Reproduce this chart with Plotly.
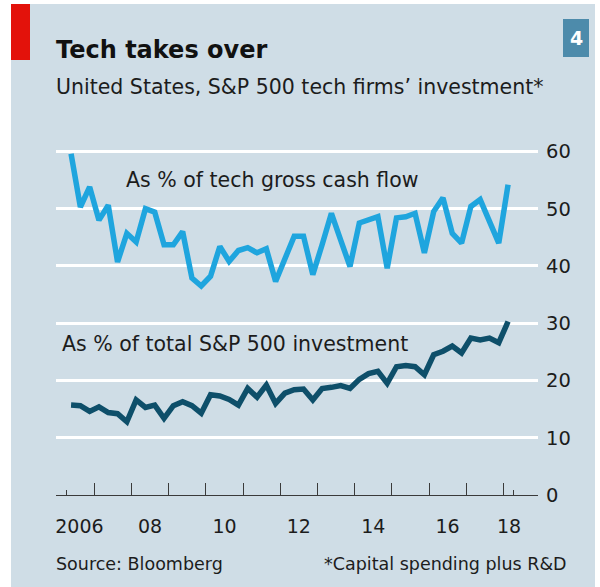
import plotly.graph_objects as go

# ---- data (quarterly, 2006 Q2 - 2018 Q1) ----
quarter_start = 2006.375
tech_cash_flow = [59.6, 50.3, 53.8, 48.0, 50.6, 40.7, 45.7, 44.2, 50.0, 49.4,
                  43.7, 43.7, 46.0, 37.9, 36.5, 38.2, 43.4, 40.8, 42.7, 43.2,
                  42.3, 43.0, 37.3, 41.4, 45.2, 45.2, 38.5, 43.7, 49.2, 44.5,
                  39.9, 47.5, 48.1, 48.6, 39.6, 48.4, 48.6, 49.2, 42.3, 49.5,
                  51.9, 45.7, 44.0, 50.4, 51.6, 48.0, 44.0, 54.2]
total_sp500 = [15.7, 15.6, 14.6, 15.4, 14.4, 14.2, 12.8, 16.6, 15.3, 15.7,
               13.4, 15.6, 16.3, 15.6, 14.3, 17.5, 17.3, 16.7, 15.7, 18.6,
               17.1, 19.2, 16.0, 17.8, 18.4, 18.5, 16.6, 18.6, 18.8, 19.1,
               18.6, 20.2, 21.2, 21.6, 19.5, 22.4, 22.6, 22.4, 21.0, 24.5,
               25.1, 26.0, 24.8, 27.4, 27.1, 27.4, 26.6, 30.3]
dates = [quarter_start + 0.25 * i for i in range(len(tech_cash_flow))]

year_ticks = list(range(2007, 2019))
label_pos = [2006.6, 2008.5, 2010.5, 2012.5, 2014.5, 2016.5, 2018.15]
label_text = ["2006", "08", "10", "12", "14", "16", "18"]
end_ticks = [2006.26, 2018.27]
y_ticks = [0, 10, 20, 30, 40, 50, 60]

FONT = "DejaVu Sans"
TXT = "#1c1c1c"
BG = "#cfdde6"

W, H = 600, 587
PL, PR, PT, PB = 56, 538, 140, 495


def px(x):
    return (x - PL) / (PR - PL)


def py(y):
    return (PB - y) / (PB - PT)


fig = go.Figure()
fig.add_trace(go.Scatter(x=dates, y=tech_cash_flow, mode="lines",
                         line=dict(color="#1fa5de", width=5.5),
                         hoverinfo="skip", showlegend=False))
fig.add_trace(go.Scatter(x=dates, y=total_sp500, mode="lines",
                         line=dict(color="#0e4f6a", width=5.5),
                         hoverinfo="skip", showlegend=False))
# carrier for the short end ticks axis
fig.add_trace(go.Scatter(x=end_ticks, y=[None, None], xaxis="x2", mode="lines",
                         hoverinfo="skip", showlegend=False))

fig.update_layout(
    width=W, height=H,
    margin=dict(l=PL, r=W - PR, t=PT, b=H - PB),
    paper_bgcolor="white",
    plot_bgcolor=BG,
    font=dict(family=FONT, color=TXT),
    xaxis=dict(
        range=[2005.97, 2018.93],
        tickmode="array", tickvals=label_pos, ticktext=label_text,
        ticks="", showgrid=False, zeroline=False,
        showline=True, linecolor="#3a3a3a", linewidth=1.3,
        tickfont=dict(size=19, color=TXT, family=FONT),
        ticklabelstandoff=14,
        minor=dict(tickmode="array", tickvals=year_ticks, ticks="inside",
                   ticklen=12, tickwidth=1.3, tickcolor="#3a3a3a", showgrid=False),
    ),
    xaxis2=dict(
        range=[2005.97, 2018.93], overlaying="x", side="bottom",
        tickmode="array", tickvals=end_ticks, ticktext=["", ""],
        ticks="inside", ticklen=5, tickwidth=1.3, tickcolor="#3a3a3a",
        showgrid=False, zeroline=False, showline=False,
    ),
    yaxis=dict(
        range=[0, 62], side="right",
        tickmode="array", tickvals=y_ticks,
        ticks="", showgrid=True, gridcolor="white", gridwidth=3,
        zeroline=False, showline=False,
        tickfont=dict(size=19.5, color=TXT, family=FONT),
        ticklabelstandoff=7,
    ),
    shapes=[
        dict(type="rect", xref="paper", yref="paper", layer="below",
             x0=px(11), x1=px(595), y0=py(4), y1=py(587),
             fillcolor=BG, line=dict(width=0)),
        dict(type="rect", xref="paper", yref="paper",
             x0=px(11), x1=px(30), y0=py(4), y1=py(60),
             fillcolor="#e3120b", line=dict(width=0)),
        dict(type="rect", xref="paper", yref="paper",
             x0=px(563), x1=px(589), y0=py(19), y1=py(57),
             fillcolor="#4d8bab", line=dict(width=0)),
    ],
    annotations=[
        dict(text="<b>Tech takes over</b>", xref="paper", yref="paper",
             x=px(54), y=py(50), xanchor="left", yanchor="middle",
             showarrow=False, font=dict(size=24, color="#111")),
        dict(text="United States, S&P 500 tech firms\u2019 investment*",
             xref="paper", yref="paper", x=px(54), y=py(87),
             xanchor="left", yanchor="middle", showarrow=False,
             font=dict(size=20.5, color=TXT)),
        dict(text="<b>4</b>", xref="paper", yref="paper",
             x=px(576), y=py(38), xanchor="center", yanchor="middle",
             showarrow=False, font=dict(size=19, color="white")),
        dict(text="As % of tech gross cash flow", xref="paper", yref="paper",
             x=px(124), y=py(180), xanchor="left", yanchor="middle",
             showarrow=False, font=dict(size=20.5, color=TXT)),
        dict(text="As % of total S&P 500 investment", xref="paper", yref="paper",
             x=px(60), y=py(344), xanchor="left", yanchor="middle",
             showarrow=False, font=dict(size=20.5, color=TXT)),
        dict(text="Source: Bloomberg", xref="paper", yref="paper",
             x=px(54), y=py(564), xanchor="left", yanchor="middle",
             showarrow=False, font=dict(size=17.5, color=TXT)),
        dict(text="*Capital spending plus R&D", xref="paper", yref="paper",
             x=px(569), y=py(564), xanchor="right", yanchor="middle",
             showarrow=False, font=dict(size=17.5, color=TXT)),
    ],
)

fig.write_html("out.html",
               config={"displayModeBar": False},
               post_script="document.body.style.margin='0';"
                           "document.body.style.overflow='hidden';")
